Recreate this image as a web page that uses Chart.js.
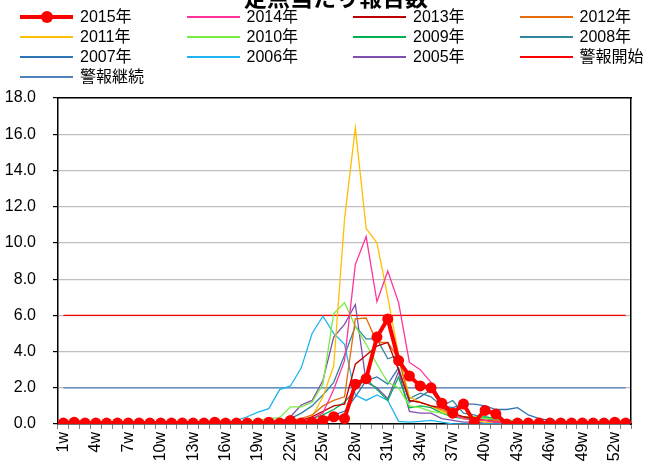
<!DOCTYPE html>
<html>
<head>
<meta charset="utf-8">
<script src="https://cdn.jsdelivr.net/npm/chart.js@4.4.1/dist/chart.umd.min.js"></script>
<style>
  html, body { margin: 0; padding: 0; background: #fff; }
  #wrap { position: relative; width: 648px; height: 468px; overflow: hidden; }
  #title {
    position: absolute; top: -21px; left: 0; width: 672px; text-align: center;
    font: bold 23px 'Noto Sans CJK JP', sans-serif; color: #000;
  }
  #legend { position: absolute; top: 7px; left: 20px; width: 640px; }
  .item { position: absolute; height: 20px; font: 16px 'Liberation Sans', 'Noto Sans CJK JP', sans-serif; color: #000; white-space: nowrap; }
  .item .swatch { position: absolute; left: 0; top: 10px; width: 53px; }
  .item .label { position: absolute; left: 60px; top: 0; line-height: 20px; }
  .item .dot { position: absolute; left: 21px; top: 4px; width: 12px; height: 12px; border-radius: 50%; background: #f00; }
</style>
</head>
<body>
<div id="wrap">
  <canvas id="chart" width="648" height="468"></canvas>
  <div id="title">定点当たり報告数</div>
  <div id="legend"></div>
</div>
<script>
  // week categories 1w..53w
  var weeks = [];
  for (var i = 1; i <= 53; i++) weeks.push(i + 'w');

  var alarmStart = 6.0;
  var alarmContinue = 2.0;

  var y2015 = [
    0.05, 0.1, 0.05, 0.05, 0.05, 0.05, 0.05, 0.05, 0.05, 0.05,
    0.05, 0.05, 0.05, 0.05, 0.1, 0.05, 0.05, 0.05, 0.05, 0.1,
    0.05, 0.2, 0.05, 0.1, 0.2, 0.4, 0.3, 2.2, 2.5, 4.8,
    5.8, 3.5, 2.65, 2.1, 2.0, 1.15, 0.6, 1.1, 0.1, 0.75,
    0.55, 0.0, 0.05, 0.05, 0.05, 0.05, 0.05, 0.05, 0.05, 0.05,
    0.05, 0.1, 0.05];
  var y2014 = [
    0, 0, 0, 0, 0, 0, 0, 0, 0, 0,
    0, 0, 0, 0, 0, 0, 0.05, 0.05, 0.05, 0.05,
    0.1, 0.1, 0.2, 0.3, 0.6, 1.9, 3.5, 8.8, 10.35, 6.75,
    8.45, 6.7, 3.4, 3.0, 2.3, 1.2, 0.5, 0.3, 0.2, 0.2,
    0.1, 0.1, 0.05, 0.05, 0.05, 0, 0, 0, 0, 0,
    0, 0, 0];
  var y2013 = [
    0, 0, 0, 0, 0, 0, 0, 0, 0, 0,
    0, 0, 0, 0, 0, 0.05, 0.05, 0.05, 0.05, 0.1,
    0.1, 0.1, 0.2, 0.4, 0.7, 1.0, 1.1, 3.3, 3.8, 4.3,
    4.5, 3.0, 1.3, 1.2, 1.0, 0.9, 0.6, 0.4, 0.3, 0.2,
    0.1, 0.1, 0.05, 0.05, 0.05, 0.05, 0, 0, 0, 0,
    0, 0, 0];
  var y2012 = [
    0, 0, 0, 0, 0, 0, 0, 0, 0, 0,
    0, 0, 0, 0, 0.05, 0.05, 0.05, 0.1, 0.1, 0.1,
    0.2, 0.2, 0.3, 0.5, 1.0, 1.3, 1.5, 5.8, 5.85, 4.5,
    4.5, 3.6, 1.3, 1.2, 1.0, 0.8, 0.5, 0.4, 0.3, 0.2,
    0.2, 0.1, 0.1, 0.05, 0.05, 0.05, 0, 0, 0, 0,
    0, 0, 0];
  var y2011 = [
    0, 0, 0, 0, 0, 0, 0, 0, 0, 0,
    0, 0, 0, 0, 0, 0.05, 0.05, 0.05, 0.05, 0.05,
    0.1, 0.1, 0.2, 0.4, 1.5, 3.2, 11.3, 16.35, 10.8, 10.0,
    7.0, 3.8, 1.5, 1.2, 1.0, 0.7, 0.5, 0.3, 0.2, 0.1,
    0.1, 0.05, 0.05, 0, 0, 0, 0, 0, 0, 0,
    0, 0, 0];
  var y2010 = [
    0, 0, 0, 0, 0, 0, 0, 0, 0, 0,
    0, 0, 0, 0, 0.05, 0.05, 0.05, 0.1, 0.2, 0.3,
    0.35, 0.95, 0.95, 1.2, 2.2, 6.1, 6.7, 5.4, 4.4, 3.3,
    2.3, 2.0, 1.0, 0.9, 0.7, 0.6, 0.5, 0.4, 0.4, 0.3,
    0.3, 0.2, 0.2, 0.1, 0.1, 0.05, 0.05, 0, 0, 0,
    0, 0, 0];
  var y2009 = [
    0, 0, 0, 0, 0, 0, 0, 0, 0, 0,
    0, 0, 0, 0, 0, 0.05, 0.05, 0.05, 0.05, 0.05,
    0.1, 0.2, 0.2, 0.3, 0.5, 0.8, 1.2, 1.9, 2.5, 1.9,
    1.3, 2.6, 0.9, 1.0, 0.9, 0.6, 0.4, 0.3, 0.3, 0.4,
    0.3, 0.2, 0.1, 0.1, 0.05, 0.05, 0, 0, 0, 0,
    0, 0, 0];
  var y2008 = [
    0, 0, 0, 0, 0, 0, 0, 0, 0, 0,
    0, 0, 0, 0, 0, 0.05, 0.05, 0.05, 0.05, 0.1,
    0.2, 0.3, 0.6, 1.0, 1.6, 2.3, 3.8, 5.4, 4.7, 4.7,
    3.6, 3.8, 1.4, 1.7, 1.5, 1.0, 1.3, 0.6, 0.5, 0.3,
    0.2, 0.2, 0.1, 0.1, 0.05, 0.05, 0.05, 0, 0, 0,
    0, 0, 0];
  var y2007 = [
    0, 0, 0, 0, 0, 0, 0, 0, 0, 0,
    0, 0, 0, 0, 0, 0, 0, 0, 0.05, 0.05,
    0.05, 0.05, 0.1, 0.2, 0.3, 0.5, 0.7, 1.5, 2.4, 2.6,
    2.2, 3.1, 1.2, 1.5, 1.9, 1.0, 0.9, 1.1, 1.1, 1.0,
    0.8, 0.8, 0.9, 0.5, 0.3, 0.2, 0.1, 0.1, 0.1, 0.05,
    0.05, 0.05, 0.05];
  var y2006 = [
    0, 0, 0, 0, 0, 0, 0, 0, 0, 0,
    0, 0, 0, 0, 0.05, 0.1, 0.2, 0.4, 0.65, 0.85,
    1.9, 2.1, 3.1, 5.0, 5.95, 5.0, 4.4, 1.6, 1.3, 1.6,
    1.3, 0.15, 0.1, 0.15, 0.2, 0.1, 0, 0, 0, 0,
    0, 0, 0, 0, 0, 0, 0, 0, 0, 0,
    0, 0, 0];
  var y2005 = [
    0, 0, 0, 0, 0, 0, 0, 0, 0, 0,
    0, 0, 0, 0, 0, 0.05, 0.05, 0.05, 0.05, 0.05,
    0.1, 0.4, 1.05, 1.3, 2.4, 4.8, 5.5, 6.6, 2.3, 2.0,
    1.4, 2.9, 0.7, 0.6, 0.6, 0.3, 0.2, 0.1, 0.1, 0.05,
    0.05, 0.05, 0, 0, 0, 0, 0, 0, 0, 0,
    0, 0, 0];

  var yTicks = [0, 2, 4, 6, 8, 10, 12, 14, 16, 18];

  var seriesNames = ['2015年', '2014年', '2013年', '2012年', '2011年', '2010年',
    '2009年', '2008年', '2007年', '2006年', '2005年', '警報開始', '警報継続'];
  var seriesData = [y2015, y2014, y2013, y2012, y2011, y2010, y2009, y2008, y2007, y2006, y2005,
    weeks.map(function () { return alarmStart; }),
    weeks.map(function () { return alarmContinue; })];
  var seriesColors = ['#ff0000', '#ff3399', '#c00000', '#e46c0a', '#ffc000', '#77ee44',
    '#00b050', '#31859c', '#2e75b6', '#1fb4f0', '#7f4fb0', '#ff0000', '#4f81bd'];

  var FONT = "'Liberation Sans', 'Noto Sans CJK JP', sans-serif";

  var datasets = seriesData.map(function (data, i) {
    var main = i === 0;
    return {
      label: seriesNames[i],
      data: data,
      borderColor: seriesColors[i],
      backgroundColor: seriesColors[i],
      borderWidth: main ? 4 : 1.3,
      pointRadius: main ? 5.5 : 0,
      pointBorderWidth: 0,
      tension: 0,
      fill: false
    };
  });

  new Chart(document.getElementById('chart').getContext('2d'), {
    type: 'line',
    data: { labels: weeks, datasets: datasets },
    options: {
      responsive: false,
      animation: false,
      layout: { padding: { top: 98, right: 12, left: 0, bottom: 0 } },
      plugins: { legend: { display: false }, tooltip: { enabled: false } },
      scales: {
        x: {
          offset: true,
          grid: { display: true, drawOnChartArea: false, drawTicks: true, tickLength: 5, color: '#808080', offset: true },
          border: { display: true, color: '#000', width: 1.5 },
          ticks: {
            autoSkip: false, minRotation: 90, maxRotation: 90, padding: 3,
            color: '#000', font: { family: FONT, size: 16 },
            callback: function (v, idx) { return idx % 3 === 0 ? weeks[idx] : ''; }
          },
          afterFit: function (s) { s.height = 44; }
        },
        x2: {
          position: 'top', display: true,
          grid: { display: false }, ticks: { display: false },
          border: { display: true, color: '#000', width: 1.5 },
          afterFit: function (s) { s.height = 0; }
        },
        y: {
          min: 0, max: 18,
          afterBuildTicks: function (s) { s.ticks = yTicks.map(function (v) { return { value: v }; }); },
          grid: { color: '#bfbfbf', lineWidth: 1.2, tickLength: 5, tickColor: '#000' },
          border: { display: true, color: '#000', width: 1.5 },
          ticks: {
            padding: 17, color: '#000', font: { family: FONT, size: 16 },
            callback: function (v) { return v.toFixed(1); }
          },
          afterFit: function (s) { s.width = 58; }
        },
        y2: {
          position: 'right', display: true, min: 0, max: 18,
          grid: { display: false }, ticks: { display: false },
          border: { display: true, color: '#000', width: 1.5 },
          afterFit: function (s) { s.width = 0; }
        }
      }
    }
  });

  // legend: 4 columns like the original sheet
  var legend = document.getElementById('legend');
  seriesNames.forEach(function (name, i) {
    var col = i % 4, row = Math.floor(i / 4);
    var item = document.createElement('div');
    item.className = 'item';
    item.style.left = (col * 166.5) + 'px';
    item.style.top = (row * 20) + 'px';
    var sw = document.createElement('div');
    sw.className = 'swatch';
    var h = i === 0 ? 4 : 2;
    sw.style.height = h + 'px';
    sw.style.marginTop = (-h / 2) + 'px';
    sw.style.background = seriesColors[i];
    item.appendChild(sw);
    if (i === 0) {
      var dot = document.createElement('div');
      dot.className = 'dot';
      item.appendChild(dot);
    }
    var lab = document.createElement('span');
    lab.className = 'label';
    lab.textContent = name;
    item.appendChild(lab);
    legend.appendChild(item);
  });
</script>
</body>
</html>
